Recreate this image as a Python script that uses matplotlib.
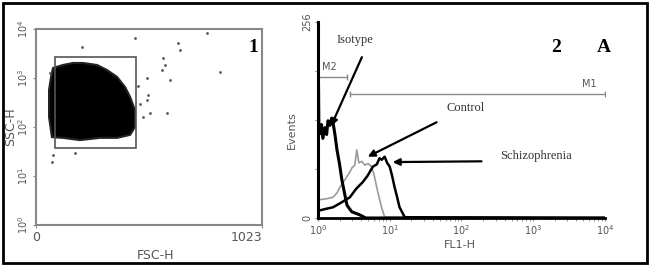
import matplotlib
matplotlib.use('Agg')
import matplotlib.pyplot as plt
from matplotlib.patches import Rectangle, Polygon

# ---- panel 1 : FSC-H / SSC-H dot plot ----
cloudFsc = [77, 122, 168, 213, 276, 321, 367, 403, 426, 448, 448, 426, 367, 290, 199, 122, 72, 59, 59, 68]
cloudSsc = [1600, 1842, 2024, 2024, 1842, 1457, 1050, 655, 409, 222, 100, 69, 60, 60, 54, 60, 62, 160, 569, 1050]
strayFsc = [448, 208, 774, 643, 652, 575, 584, 570, 833, 607, 502, 507, 502, 516, 593, 484, 77, 72, 177, 63, 470, 462]
straySsc = [6550, 4290, 8280, 5180, 3730, 2560, 1840, 1457, 1325, 910, 1000, 450, 356, 193, 193, 160, 27, 19, 30, 1260, 300, 700]
gateFsc = [86, 453]
gateSsc = [37, 2700]

# ---- panel 2 : FL1-H histograms ----
isoX = [1.0, 1.03, 1.07, 1.12, 1.17, 1.25, 1.32, 1.38, 1.47, 1.55, 1.62, 1.73, 1.84, 2.0, 2.15, 2.35, 2.53, 2.75, 2.97, 3.4, 3.83, 4.64, 10, 10000]
isoY = [256, 115, 110, 122, 104, 118, 109, 127, 121, 130, 125, 108, 89, 70, 50, 32, 17, 12, 8, 6, 4, 0, 0, 0]
ctlX = [1.07, 1.3, 1.62, 1.85, 2.02, 2.3, 2.78, 3.0, 3.26, 3.48, 3.71, 4.1, 4.49, 5.0, 5.62, 6.1, 6.6, 7.1, 7.7, 8.5, 10000]
ctlY = [24, 25, 27, 33, 40, 48, 60, 66, 69, 89, 72, 74, 69, 71, 67, 55, 40, 27, 14, 1, 0]
schX = [1.07, 1.3, 1.62, 2.1, 2.78, 3.4, 4.22, 4.9, 5.81, 6.6, 7.2, 7.74, 8.5, 9.2, 10, 10.8, 11.7, 12.7, 13.7, 16.2, 10000]
schY = [10, 12, 14, 20, 27, 38, 47, 55, 67, 70, 78, 76, 80, 72, 67, 55, 40, 27, 14, 1, 0]
m1Range = [2.8, 10000]
m1Level = 162
m2Range = [1.0, 2.5]
m2Level = 184

fig = plt.figure(figsize=(6.5, 2.66), dpi=100)
fig.patches.append(Rectangle((0.004, 0.012), 0.992, 0.978, transform=fig.transFigure,
                             fill=False, edgecolor='black', linewidth=2))

tickColor = '#555555'
serif = 'Liberation Serif'

# left panel
ax1 = fig.add_axes([0.0554, 0.1541, 0.3477, 0.737])
ax1.set_xlim(0, 1023)
ax1.set_yscale('log')
ax1.set_ylim(1, 10000)
ax1.add_patch(Polygon(list(zip(cloudFsc, cloudSsc)), closed=True, facecolor='black',
                      edgecolor='#222222', linewidth=1.5, joinstyle='round'))
ax1.scatter(strayFsc, straySsc, s=4, color='#555555', linewidths=0)
ax1.add_patch(Rectangle((gateFsc[0], gateSsc[0]), gateFsc[1] - gateFsc[0], gateSsc[1] - gateSsc[0],
                        fill=False, edgecolor='#555555', linewidth=1.2))
for s in ax1.spines.values():
  s.set_color('#888888')
  s.set_linewidth(1.5)
ax1.spines['bottom'].set_linestyle((0, (2, 1)))
ax1.set_xticks([0, 1023])
ax1.set_xticklabels(['0', '1023'], fontsize=9, color=tickColor)
ax1.get_xticklabels()[1].set_horizontalalignment('right')
ax1.set_yticks([1, 10, 100, 1000, 10000])
ax1.set_yticklabels(['$10^0$', '$10^1$', '$10^2$', '$10^3$', '$10^4$'], fontsize=7, color=tickColor, rotation=90, va='center')
ax1.minorticks_off()
ax1.tick_params(length=2, pad=2, color='#888888')
ax1.set_xlabel('FSC-H', fontsize=9, color=tickColor)
ax1.set_ylabel('SSC-H', fontsize=9, color=tickColor)
ax1.xaxis.set_label_coords(0.527, -0.12)
ax1.yaxis.set_label_coords(-0.082, 0.5)
ax1.text(0.96, 0.908, '1', transform=ax1.transAxes, ha='center', va='center',
         fontsize=14, fontweight='bold', family=serif)

# right panel
ax2 = fig.add_axes([0.4892, 0.1805, 0.4415, 0.737])
ax2.set_xscale('log')
ax2.set_xlim(1, 10000)
ax2.set_ylim(0, 256)
ax2.plot(ctlX, ctlY, color='#9a9a9a', linewidth=1.2)
ax2.plot(schX, schY, color='black', linewidth=1.8)
ax2.plot(isoX, isoY, color='black', linewidth=2.2)
ax2.plot(m1Range, [m1Level, m1Level], color='#888888', linewidth=1)
ax2.plot(m1Range, [m1Level, m1Level], color='#888888', linestyle='none', marker='|', markersize=4)
ax2.plot(m2Range, [m2Level, m2Level], color='#888888', linewidth=1)
ax2.plot(m2Range, [m2Level, m2Level], color='#888888', linestyle='none', marker='|', markersize=4)
ax2.text(1.42, 197, 'M2', fontsize=7, color='#555555', ha='center', va='center')
ax2.text(6000, 175, 'M1', fontsize=7, color='#555555', ha='center', va='center')

ax2.spines['top'].set_visible(False)
ax2.spines['right'].set_visible(False)
ax2.spines['left'].set_linewidth(2.2)
ax2.spines['bottom'].set_linewidth(2)
ax2.spines['bottom'].set_linestyle((0, (2, 1)))
ax2.set_xticks([1, 10, 100, 1000, 10000])
ax2.set_xticklabels(['$10^0$', '$10^1$', '$10^2$', '$10^3$', '$10^4$'], fontsize=7, color=tickColor)
ax2.set_yticks([0, 64, 128, 192, 256])
ax2.set_yticklabels(['0', '', '', '', '256'], fontsize=7, color=tickColor, rotation=90, va='center')
ax2.tick_params(axis='y', length=2, pad=2, color='#888888')
ax2.tick_params(axis='x', which='both', length=2, pad=2, color='#888888')
ax2.set_xlabel('FL1-H', fontsize=8, color=tickColor)
ax2.set_ylabel('Events', fontsize=8, color=tickColor)
ax2.xaxis.set_label_coords(0.495, -0.112)
ax2.yaxis.set_label_coords(-0.074, 0.45)

ax2.text(3.26, 232, 'Isotype', family=serif, fontsize=9, color='#333333', ha='center', va='center')
ax2.text(113.6, 144, 'Control', family=serif, fontsize=9, color='#333333', ha='center', va='center')
ax2.text(1100, 81, 'Schizophrenia', family=serif, fontsize=9, color='#333333', ha='center', va='center')
ax2.text(2090, 222, '2', family=serif, fontsize=14, fontweight='bold', ha='center', va='center')
ax2.text(9680, 222, 'A', family=serif, fontsize=14, fontweight='bold', ha='center', va='center')

arrowStyle = dict(arrowstyle='-|>', color='black', linewidth=1.6, mutation_scale=10, shrinkA=0, shrinkB=0)
ax2.annotate('', xy=(1.52, 120), xytext=(4.09, 210), arrowprops=arrowStyle)
ax2.annotate('', xy=(4.94, 80), xytext=(45, 125), arrowprops=arrowStyle)
ax2.annotate('', xy=(11, 73), xytext=(190, 74), arrowprops=arrowStyle)

fig.savefig('out.png', dpi=100)
